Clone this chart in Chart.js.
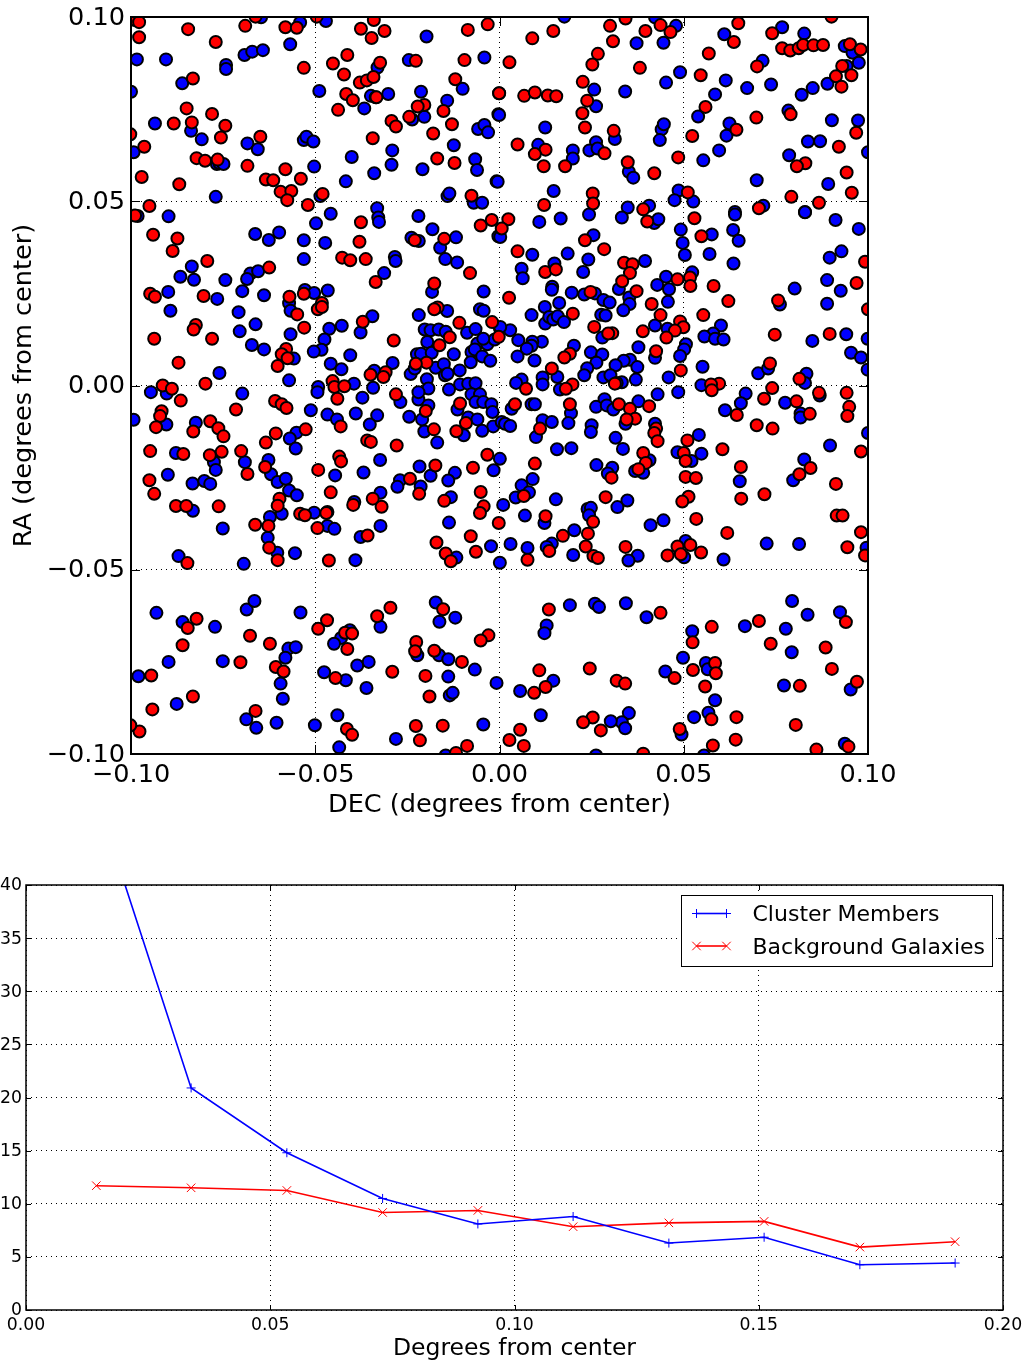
<!DOCTYPE html>
<html>
<head>
<meta charset="utf-8">
<title>Cluster members and background galaxies</title>
<script src="https://cdn.jsdelivr.net/npm/chart.js@4/dist/chart.umd.min.js"></script>
<style>
  html, body { margin: 0; padding: 0; background: #fff; }
  #page { position: relative; width: 1028px; height: 1361px; overflow: hidden; }
  canvas { position: absolute; left: 0; display: block; }
  #sky { top: 0; }
  #profile { top: 830px; }
</style>
</head>
<body>
<div id="page">
  <canvas id="sky" width="1028" height="830"></canvas>
  <canvas id="profile" width="1028" height="531"></canvas>
</div>
<script>
'use strict';

// [DEC, RA] in degrees from center
const clusterMembers = [
  [-.1000,.0797],[-.0984,.0885],[-.0905,.0885],[-.0861,.0820],[-.0742,.0870],[-.0742,.0859],[-.0692,.0897],[-.0671,.0906],
  [-.0642,.0910],[-.0568,.0926],[-.0541,.0985],[-.0647,.0999],[-.0471,.0989],[-.0198,.0947],[-.0246,.0883],[-.0489,.0799],
  [-.0041,.0890],[-.0331,.0863],[-.0349,.0786],[-.0336,.0782],[-.0302,.0791],[-.0213,.0797],[-.0142,.0773],[-.0367,.0752],
  [-.0100,.0805],[-.0003,.0736],[-.0204,.0729],[-.0237,.0722],[-.0058,.0696],[-.0041,.0707],[-.0031,.0687],[-.0837,.0691],
  [-.0808,.0668],[-.0935,.0711],[-.0684,.0657],[-.0656,.0641],[-.0531,.0666],[-.0524,.0675],[-.0505,.0662],[-.0993,.0633],
  [-.0124,.0652],[-.0291,.0638],[-.0401,.0620],[-.0066,.0614],[-.0061,.0585],[-.0293,.0599],[-.0503,.0594],[-.0209,.0587],
  [-.0340,.0576],[-.0417,.0554],[-.0008,.0554],[-.0770,.0512],[-.0767,.0601],[-.0760,.0603],[-.0749,.0601],[-.0141,.0514],
  [-.0136,.0521],[-.0486,.0514],[-.0070,.0496],[-.0047,.0496],[-.0332,.0481],
  [.0176,.1001],[.0422,.0999],[.0479,.0976],[.0610,.0953],[.0827,.0955],[.0767,.0972],[.0372,.0929],[.0445,.0930],
  [.0937,.0921],[.0958,.0903],[.0975,.0876],[.0942,.0867],[.0714,.0881],[.0490,.0850],[.0452,.0822],[.0614,.0828],
  [.0585,.0790],[.0672,.0807],[.0737,.0817],[.0341,.0798],[.0257,.0803],[.0820,.0789],[.0850,.0807],[.0890,.0819],
  [.0262,.0758],[.0539,.0730],[.0784,.0746],[.0902,.0720],[.0973,.0719],[.0124,.0700],[.0624,.0711],[.0616,.0678],
  [.0440,.0695],[.0446,.0709],[.0435,.0666],[.0313,.0669],[.0262,.0660],[.0244,.0638],[.0266,.0643],[.0105,.0653],
  [.0199,.0638],[.0199,.0616],[.0837,.0662],[.0870,.0663],[.0596,.0638],[.0553,.0611],[.0786,.0625],[.1000,.0633],
  [-.0001,.0734],[.0351,.0580],[.0363,.0564],[-.0005,.0553],[.0147,.0528],[.0698,.0557],[.0892,.0547],[.0486,.0529],
  [.0475,.0503],[.0526,.0499],[.0348,.0483],[.0406,.0488],[.0716,.0488],[.0829,.0471],[.0639,.0471],
  [-.0982,.0460],[-.0898,.0459],[-.0458,.0466],[-.0498,.0440],[-.0329,.0456],[-.0327,.0444],[-.0220,.0460],[-.0182,.0424],
  [-.0118,.0402],[-.0003,.0405],[-.0239,.0401],[-.0219,.0392],[-.0161,.0374],[-.0147,.0343],[-.0115,.0334],[-.0663,.0411],
  [-.0626,.0395],[-.0598,.0415],[-.0531,.0394],[-.0473,.0387],[-.0531,.0343],[-.0284,.0349],[-.0282,.0338],[-.0313,.0305],
  [-.0835,.0323],[-.0866,.0295],[-.0829,.0287],[-.0744,.0286],[-.0676,.0304],[-.0655,.0310],[-.0685,.0289],[-.0698,.0256],
  [-.0639,.0245],[-.0899,.0254],[-.0766,.0235],[-.0528,.0259],[-.0503,.0251],[-.0466,.0258],[-.0043,.0255],[-.0183,.0254],
  [-.0893,.0203],[-.0708,.0199],[-.0571,.0223],[-.0567,.0203],[-.0219,.0191],[-.0142,.0202],[-.0053,.0207],[-.0043,.0203],
  [-.0345,.0188],[-.0662,.0166],[-.0705,.0147],[-.0428,.0162],[-.0462,.0154],[-.0377,.0144],[-.0567,.0139],[-.0475,.0125],
  [-.0672,.0110],[-.0639,.0098],[-.0483,.0097],[-.0504,.0092],[-.0405,.0082],[-.0558,.0073],[-.0203,.0152],[-.0187,.0150],
  [-.0165,.0152],[-.0146,.0146],[-.0088,.0143],[-.0065,.0153],[.0001,.0156],[-.0196,.0118],[-.0060,.0114],[-.0033,.0112],
  [-.0013,.0125],[-.0044,.0127],[-.0224,.0085],[-.0213,.0086],[-.0184,.0089],[-.0124,.0085],[-.0076,.0091],[-.0067,.0098],
  [-.0047,.0079],[-.0078,.0063],[-.0025,.0067],[-.0458,.0059],[-.0429,.0044],[-.0290,.0061],[-.0340,.0040],[-.0173,.0048],
  [-.0151,.0058],[-.0241,.0031],[-.0230,.0046],[-.0148,.0028],[-.0141,.0032],[-.0108,.0041],[-.0760,.0034],[-.0571,.0014],
  [-.0492,-.0004],[-.0494,-.0018],[-.0395,.0005],[-.0343,-.0006],[-.0197,.0017],[-.0193,-.0008],[-.0107,.0003],[-.0085,.0005],
  [-.0065,.0006],[-.0137,-.0011],
  [.0639,.0464],[.0829,.0470],[.0912,.0449],[.0975,.0425],[.0166,.0453],[.0243,.0464],[.0332,.0456],[.0108,.0444],
  [.0420,.0441],[.0431,.0451],[.0002,.0403],[.0492,.0423],[.0634,.0422],[.0576,.0410],[.0649,.0393],[.0497,.0387],
  [.0255,.0408],[.0503,.0354],[.0570,.0357],[.0089,.0355],[.0185,.0358],[.0896,.0347],[.0928,.0364],[.0395,.0338],
  [.0241,.0342],[.0149,.0331],[.0635,.0331],[.0060,.0317],[.0063,.0291],[.0227,.0308],[.0523,.0307],[.0452,.0295],
  [.0889,.0286],[.0428,.0273],[.0460,.0261],[.0143,.0268],[.0142,.0260],[.0324,.0262],[.0196,.0252],[.0230,.0247],
  [.0259,.0250],[.0282,.0232],[.0299,.0225],[.0352,.0239],[.0353,.0221],[.0801,.0263],[.0926,.0257],[.0889,.0222],
  [.0761,.0220],[.0457,.0227],[.0123,.0213],[.0162,.0224],[.0336,.0204],[.0276,.0192],[.0288,.0190],[.0087,.0191],
  [.0124,.0168],[.0135,.0186],[.0146,.0179],[.0158,.0188],[.0175,.0172],[.0601,.0163],[.0422,.0163],[.0456,.0154],
  [.0580,.0141],[.0556,.0133],[.0585,.0127],[.0608,.0125],[.0029,.0150],[.0002,.0159],[.0051,.0123],[.0279,.0130],
  [.0941,.0139],[.0849,.0121],[.0115,.0119],[.0089,.0119],[.0087,.0108],[.0074,.0100],[.0999,.0127],[.0377,.0104],
  [.0202,.0108],[.0506,.0112],[.0501,.0098],[.0490,.0080],[.0248,.0090],[.0279,.0084],[.0049,.0079],[.0263,.0062],
  [.0095,.0068],[.0422,.0075],[.0354,.0070],[.0337,.0067],[.0954,.0089],[.0981,.0076],[.0315,.0055],[.0238,.0047],
  [.0374,.0050],[.0551,.0051],[.0702,.0033],[.0729,.0046],[.0833,.0032],[.0230,.0028],[.0999,.0043],[.0459,.0022],
  [.0370,.0016],[.0282,.0022],[.0301,.0028],[.0332,.0009],[.0318,.0007],[.0117,.0022],[.0157,.0023],[.0060,.0016],
  [.0045,.0007],[.0117,.0003],[.0548,.0001],[.0829,.0007],[.0164,-.0011],
  [-.0993,-.0093],[-.0946,-.0018],[-.0903,-.0022],[-.0698,-.0022],[-.0372,-.0033],[-.0269,-.0045],[-.0220,-.0038],[-.0220,-.0018],
  [-.0193,-.0054],[-.0076,-.0024],[-.0053,-.0024],[-.0065,-.0045],[-.0044,-.0045],[-.0022,-.0051],[-.0019,-.0072],[-.0512,-.0067],
  [-.0467,-.0079],[-.0441,-.0092],[-.0390,-.0076],[-.0332,-.0081],[-.0352,-.0106],[-.0245,-.0085],[-.0210,-.0092],[-.0114,-.0065],
  [-.0085,-.0087],[-.0060,-.0092],[-.0017,-.0111],[.0006,-.0099],[-.0047,-.0123],[-.0097,-.0135],[-.0204,-.0125],[-.0169,-.0155],
  [-.0904,-.0106],[-.0824,-.0101],[-.0551,-.0128],[-.0569,-.0144],[-.0553,-.0171],[-.0878,-.0183],[-.0627,-.0202],[-.0691,-.0208],
  [-.0775,-.0208],[-.0770,-.0229],[-.0324,-.0202],[.0001,-.0199],[-.0217,-.0220],[-.0016,-.0230],[-.0187,-.0245],[-.0121,-.0237],
  [-.0139,-.0258],[-.0900,-.0242],[-.0446,-.0244],[-.0369,-.0236],[-.0620,-.0241],[-.0602,-.0262],[-.0580,-.0253],[-.0833,-.0266],
  [-.0801,-.0259],[-.0785,-.0267],[-.0270,-.0257],[-.0277,-.0275],[-.0214,-.0274],[-.0571,-.0285],[-.0550,-.0298],[-.0323,-.0291],
  [-.0132,-.0303],[-.0394,-.0316],[.0010,-.0324],[-.0832,-.0340],[-.0591,-.0348],[-.0503,-.0345],[-.0467,-.0343],[-.0623,-.0357],
  [-.0467,-.0381],[-.0448,-.0389],[-.0323,-.0381],[-.0137,-.0372],[-.0751,-.0388],[-.0629,-.0413],[-.0377,-.0411],[-.0023,-.0436],
  [-.0603,-.0454],[-.0555,-.0455],[-.0117,-.0467],[-.0871,-.0463],[-.0694,-.0484],[-.0391,-.0474],[.0001,-.0481],
  [.0485,-.0018],[.0429,-.0024],[.0668,-.0022],[.0869,-.0027],[.0087,-.0051],[.0096,-.0051],[.0033,-.0063],[.0285,-.0037],
  [.0262,-.0058],[.0291,-.0054],[.0309,-.0065],[.0377,-.0043],[.0655,-.0048],[.0612,-.0067],[.0775,-.0047],[.0817,-.0076],
  [.0817,-.0087],[.0194,-.0075],[.0187,-.0102],[.0342,-.0104],[.0117,-.0094],[.0142,-.0099],[.0250,-.0108],[.0248,-.0126],
  [.0099,-.0140],[.0422,-.0104],[.0315,-.0142],[.0335,-.0172],[.0541,-.0134],[.0156,-.0173],[.0195,-.0170],[.0897,-.0163],
  [.1000,-.0129],[.0483,-.0181],[.0521,-.0205],[.0548,-.0185],[.0407,-.0203],[.0263,-.0216],[.0306,-.0223],[.0368,-.0232],
  [.0390,-.0237],[.0294,-.0239],[.0827,-.0201],[.0797,-.0257],[.0652,-.0260],[.0090,-.0254],[.0060,-.0271],[.0080,-.0290],
  [.0044,-.0304],[.0153,-.0309],[.0347,-.0312],[.0320,-.0330],[.0239,-.0335],[.0248,-.0332],[.0243,-.0352],[.0069,-.0353],
  [.0122,-.0373],[.0445,-.0366],[.0410,-.0379],[.0203,-.0393],[.0142,-.0429],[.0128,-.0438],[.0030,-.0430],[.0076,-.0441],
  [.0200,-.0460],[.0375,-.0462],[.0350,-.0475],[.0505,-.0422],[.0501,-.0466],[.0608,-.0472],[.0725,-.0429],[.0813,-.0430],
  [.0996,-.0440],[.0015,-.0104],[.0029,-.0110],
  [-.0931,-.0617],[-.0860,-.0642],[-.0772,-.0655],[-.0686,-.0608],[-.0665,-.0585],[-.0540,-.0616],[-.0323,-.0655],[-.0173,-.0589],
  [-.0163,-.0641],[-.0120,-.0630],[-.0406,-.0664],[-.0430,-.0685],[-.0449,-.0701],[-.0573,-.0714],[-.0553,-.0710],[-.0581,-.0739],
  [-.0898,-.0750],[-.0751,-.0748],[-.0980,-.0789],[-.0594,-.0809],[-.0588,-.0850],[-.0876,-.0864],[-.0476,-.0778],[-.0417,-.0800],
  [-.0386,-.0760],[-.0355,-.0750],[-.0361,-.0821],[-.0223,-.0732],[-.0164,-.0732],[-.0139,-.0743],[-.0139,-.0790],[-.0067,-.0771],
  [-.0008,-.0807],[-.0135,-.0841],[-.0127,-.0834],[-.0687,-.0906],[-.0660,-.0929],[-.0605,-.0915],[-.0501,-.0922],[-.0440,-.0895],
  [-.0044,-.0920],[-.0281,-.0959],[-.0435,-.0982],[-.0146,-.1004],
  [.0191,-.0596],[.0259,-.0592],[.0270,-.0601],[.0343,-.0591],[.0399,-.0629],[.0128,-.0651],[.0122,-.0672],[.0523,-.0667],
  [.0666,-.0653],[.0777,-.0660],[.0794,-.0585],[.0836,-.0622],[.0924,-.0615],[.0793,-.0724],[.0498,-.0739],[.0560,-.0753],
  [.0565,-.0770],[.0450,-.0776],[.0146,-.0801],[.0056,-.0829],[.0772,-.0814],[.0953,-.0825],[.0585,-.0854],[.0112,-.0895],
  [.0351,-.0889],[.0332,-.0914],[.0341,-.0930],[.0302,-.0911],[.0567,-.0888],[.0528,-.0900],[.0494,-.0947],[.0937,-.0972],
  [.0262,-.1004],[.0555,-.1004]
];

const backgroundGalaxies = [
  [-.0989,.0992],[-.0978,.0986],[-.0978,.0945],[-.0845,.0967],[-.0770,.0932],[-.0690,.0976],[-.0662,.1001],[-.0581,.0972],
  [-.0550,.0971],[-.0496,.1001],[-.0376,.0968],[-.0341,.0992],[-.0312,.0962],[-.0347,.0943],[-.0086,.0965],[-.0032,.0980],
  [-.0531,.0862],[-.0413,.0897],[-.0452,.0874],[-.0324,.0876],[-.0227,.0881],[-.0095,.0883],[-.0832,.0833],[-.0422,.0844],
  [-.0379,.0822],[-.0360,.0828],[-.0342,.0837],[-.0120,.0831],[-.0001,.0793],[-.0416,.0791],[-.0398,.0774],[-.0334,.0782],
  [-.0204,.0761],[-.0222,.0757],[-.0152,.0745],[-.0438,.0748],[-.0849,.0752],[-.0780,.0737],[-.0884,.0711],[-.0835,.0714],
  [-.0744,.0705],[-.0245,.0729],[-.0293,.0718],[-.0281,.0703],[-.0129,.0709],[-.0180,.0684],[-.1002,.0682],[-.0756,.0673],
  [-.0649,.0675],[-.0344,.0671],[-.0964,.0648],[-.0822,.0617],[-.0799,.0610],[-.0765,.0613],[-.0684,.0596],[-.0169,.0616],
  [-.0122,.0604],[-.0581,.0587],[-.0971,.0566],[-.0869,.0546],[-.0634,.0559],[-.0614,.0557],[-.0539,.0561],[-.0594,.0526],
  [-.0565,.0528],[-.0576,.0503],[-.0480,.0520],[-.0076,.0515],[-.0950,.0487],[-.0520,.0490],
  [.0901,.1001],[.0342,.0996],[.0648,.0983],[.0300,.0976],[.0437,.0978],[.0396,.0962],[.0464,.0959],[.0146,.0962],
  [.0089,.0942],[.0308,.0934],[.0636,.0932],[.0740,.0956],[.0767,.0915],[.0789,.0909],[.0812,.0915],[.0824,.0924],
  [.0852,.0923],[.0878,.0924],[.0951,.0926],[.0980,.0912],[.0568,.0901],[.0267,.0900],[.0027,.0877],[.0252,.0871],
  [.0381,.0862],[.0699,.0866],[.0930,.0867],[.0955,.0842],[.0913,.0839],[.0546,.0842],[.0226,.0824],[.0928,.0811],
  [-.0001,.0793],[.0067,.0786],[.0096,.0795],[.0131,.0787],[.0154,.0785],[.0238,.0773],[.0559,.0756],[.0225,.0739],
  [.0697,.0727],[.0790,.0736],[.0232,.0700],[.0643,.0694],[.0310,.0691],[.0968,.0686],[.0523,.0677],[.0049,.0654],
  [.0125,.0640],[.0096,.0628],[.0285,.0630],[.0921,.0648],[.0485,.0619],[.0120,.0595],[.0178,.0595],[.0348,.0606],
  [.0830,.0603],[.0807,.0595],[.0420,.0576],[.0942,.0578],[.0253,.0521],[.0792,.0512],[.0511,.0524],[.0956,.0523],
  [.0867,.0496],[.0254,.0494],[.0121,.0490],[.0390,.0478],[.0704,.0481],
  [-.0989,.0461],[-.0940,.0409],[-.0874,.0399],[-.0887,.0365],[-.0793,.0338],[-.0625,.0320],[-.0376,.0443],[-.0380,.0390],
  [-.0230,.0394],[-.0150,.0398],[-.0427,.0347],[-.0405,.0340],[-.0363,.0343],[-.0051,.0434],[-.0021,.0449],[-.0080,.0305],
  [-.0336,.0281],[-.0177,.0277],[-.0948,.0249],[-.0935,.0241],[-.0803,.0243],[-.0570,.0241],[-.0531,.0249],[-.0482,.0224],
  [-.0493,.0207],[-.0482,.0213],[-.0549,.0193],[-.0168,.0212],[-.0177,.0207],[-.0824,.0164],[-.0830,.0152],[-.0371,.0173],
  [-.0530,.0157],[-.0109,.0170],[-.0020,.0172],[-.0937,.0127],[-.0780,.0127],[-.0287,.0122],[-.0135,.0131],[-.0002,.0132],
  [-.0163,.0109],[-.0579,.0099],[-.0591,.0085],[-.0575,.0074],[-.0871,.0062],[-.0602,.0053],[-.0198,.0062],[-.0227,.0059],
  [-.0350,.0029],[-.0309,.0036],[-.0315,.0023],[-.0453,.0012],[-.0448,-.0004],[-.0421,-.0002],[-.0798,.0005],[-.0914,.0000],
  [-.0889,-.0009],
  [.0529,.0454],[.0401,.0445],[.0024,.0451],[.0006,.0426],[.0548,.0405],[.0232,.0394],[.0284,.0370],[.0049,.0364],
  [.0338,.0333],[.0361,.0329],[.0992,.0336],[.0124,.0308],[.0153,.0315],[.0354,.0305],[.0333,.0283],[.0483,.0288],
  [.0517,.0293],[.0518,.0270],[.0581,.0270],[.0969,.0278],[.0247,.0254],[.0372,.0256],[.0026,.0238],[.0621,.0229],
  [.0756,.0231],[.0413,.0221],[.1000,.0207],[.0199,.0195],[.0437,.0191],[.0553,.0191],[.0257,.0159],[.0490,.0174],
  [.0499,.0158],[.0476,.0149],[.0306,.0142],[.0295,.0141],[.0389,.0147],[.0453,.0130],[.0747,.0138],[.0896,.0140],
  [.0425,.0093],[.0191,.0086],[.0176,.0076],[.0734,.0060],[.0142,.0046],[.0492,.0041],[.0198,.0003],[.0814,.0018],
  [.0313,.0005],[.0596,.0005],[.0574,.0003],[.0576,-.0013],[.0740,-.0007],[.0072,-.0009],[.0180,-.0009],
  [-.0865,-.0041],[-.0715,-.0065],[-.0609,-.0042],[-.0591,-.0051],[-.0578,-.0061],[-.0440,-.0036],[-.0281,-.0024],[-.0107,-.0049],
  [-.0200,-.0069],[-.0917,-.0070],[-.0921,-.0083],[-.0932,-.0113],[-.0831,-.0125],[-.0785,-.0097],[-.0763,-.0116],[-.0749,-.0138],
  [-.0607,-.0130],[-.0634,-.0155],[-.0526,-.0119],[-.0431,-.0111],[-.0178,-.0119],[-.0117,-.0124],[-.0091,-.0102],[-.0359,-.0149],
  [-.0349,-.0153],[-.0279,-.0163],[-.0948,-.0178],[-.0858,-.0186],[-.0786,-.0189],[-.0754,-.0180],[-.0701,-.0178],[-.0435,-.0193],
  [-.0430,-.0206],[-.0033,-.0188],[-.0636,-.0221],[-.0684,-.0240],[-.0492,-.0229],[-.0072,-.0223],[-.0174,-.0217],[-.0950,-.0257],
  [-.0937,-.0294],[-.0243,-.0253],[-.0218,-.0294],[-.0458,-.0290],[-.0051,-.0289],[-.0344,-.0307],[-.0320,-.0329],[-.0397,-.0324],
  [-.0150,-.0313],[-.0597,-.0307],[-.0602,-.0326],[-.0878,-.0327],[-.0850,-.0327],[-.0762,-.0328],[-.0541,-.0348],[-.0528,-.0352],
  [-.0470,-.0346],[-.0043,-.0328],[-.0053,-.0346],[-.0002,-.0373],[-.0663,-.0378],[-.0627,-.0381],[-.0494,-.0387],[-.0358,-.0407],
  [-.0078,-.0409],[-.0171,-.0426],[-.0625,-.0440],[-.0146,-.0456],[-.0064,-.0451],[-.0132,-.0477],[-.0847,-.0482],[-.0602,-.0474],
  [-.0463,-.0475],
  [.0867,-.0020],[.0942,-.0020],[.0718,-.0036],[.0806,-.0043],[.0842,-.0077],[.0644,-.0080],[.0949,-.0058],[.0944,-.0083],
  [.0698,-.0108],[.0741,-.0117],[.0042,-.0051],[.0191,-.0051],[.0324,-.0051],[.0354,-.0063],[.0406,-.0056],[.0368,-.0090],
  [.0345,-.0092],[.0110,-.0117],[.0425,-.0117],[.0420,-.0129],[.0429,-.0151],[.0510,-.0149],[.0605,-.0173],[.0981,-.0179],
  [.0390,-.0183],[.0500,-.0183],[.0505,-.0205],[.0096,-.0212],[.0397,-.0210],[.0377,-.0227],[.0844,-.0224],[.0655,-.0221],
  [.0814,-.0241],[.0505,-.0248],[.0533,-.0251],[.0304,-.0250],[.0913,-.0267],[.0066,-.0300],[.0513,-.0302],[.0496,-.0315],
  [.0288,-.0303],[.0656,-.0307],[.0719,-.0295],[.0125,-.0355],[.0254,-.0370],[.0915,-.0353],[.0931,-.0353],[.0534,-.0362],
  [.0618,-.0400],[.0981,-.0398],[.0172,-.0408],[.0240,-.0402],[.0234,-.0437],[.0342,-.0438],[.0483,-.0437],[.0518,-.0433],
  [.0944,-.0439],[.0135,-.0449],[.0255,-.0463],[.0267,-.0468],[.0076,-.0473],[.0456,-.0461],[.0492,-.0458],[.0547,-.0453],
  [.0992,-.0461],
  [-.0822,-.0633],[-.0846,-.0658],[-.0468,-.0637],[-.0492,-.0660],[-.0332,-.0626],[-.0296,-.0603],[-.0153,-.0607],[-.0419,-.0671],
  [-.0400,-.0673],[-.0677,-.0679],[-.0623,-.0701],[-.0860,-.0705],[-.0226,-.0696],[-.0229,-.0721],[-.0177,-.0720],[-.0413,-.0715],
  [-.0030,-.0678],[-.0051,-.0692],[-.0102,-.0750],[-.0703,-.0751],[-.0607,-.0764],[-.0586,-.0776],[-.0945,-.0787],[-.0445,-.0794],
  [-.0291,-.0777],[-.0201,-.0788],[-.0190,-.0844],[-.0832,-.0844],[-.0942,-.0879],[-.0662,-.0883],[-.0227,-.0924],[-.0154,-.0923],
  [-.0414,-.0932],[-.0400,-.0948],[-.0977,-.0939],[-.1002,-.0922],[-.0216,-.0963],[-.0088,-.0978],[-.0118,-.0997],
  [.0134,-.0608],[.0437,-.0617],[.0940,-.0642],[.0704,-.0639],[.0576,-.0655],[.0736,-.0701],[.0885,-.0711],[.0524,-.0697],
  [.0585,-.0753],[.0525,-.0772],[.0587,-.0781],[.0902,-.0769],[.0245,-.0768],[.0108,-.0773],[.0475,-.0794],[.0318,-.0801],
  [.0341,-.0809],[.0125,-.0818],[.0094,-.0834],[.0970,-.0804],[.0558,-.0817],[.0815,-.0815],[.0643,-.0900],[.0575,-.0906],
  [.0804,-.0921],[.0253,-.0901],[.0227,-.0914],[.0275,-.0936],[.0056,-.0934],[.0027,-.0962],[.0066,-.0978],[.0489,-.0932],
  [.0641,-.0961],[.0579,-.0977],[.0390,-.0999],[.0860,-.0988],[.0947,-.0980]
];

const radialBins = [0.0144, 0.0338, 0.0534, 0.0730, 0.0925, 0.1120, 0.1316, 0.1511, 0.1707, 0.1902];
const clusterDensity = [48.3, 20.9, 14.8, 10.5, 8.1, 8.8, 6.3, 6.85, 4.26, 4.42];
const backgroundDensity = [11.7, 11.5, 11.25, 9.18, 9.37, 7.84, 8.2, 8.34, 5.92, 6.43];

const skyTicks = [-0.1, -0.05, 0, 0.05, 0.1];
const radiusTicks = [0, 0.05, 0.1, 0.15, 0.2];
const densityTicks = [0, 5, 10, 15, 20, 25, 30, 35, 40];

const FONT = "'DejaVu Sans', sans-serif";

const toPoint = (pair) => ({ x: pair[0], y: pair[1] });
const signed = (v) => v.toFixed(2).replace('-', '\u2212');
const pinTicks = (values) => (axis) => { axis.ticks = values.map((value) => ({ value })); };

// fixed axis box; the scale's own label padding would push the plot area in
const fixHeight = (h) => (s) => { s.height = h; s.paddingLeft = 0; s.paddingRight = 0; };
const fixWidth = (w) => (s) => { s.width = w; s.paddingTop = 0; s.paddingBottom = 0; };

// matplotlib style frame: box plus inward ticks on all four sides
const frameTicks = {
  id: 'frameTicks',
  afterDatasetsDraw(chart, args, opts) {
    const { ctx, chartArea: a, scales: { x, y } } = chart;
    ctx.save();
    ctx.strokeStyle = '#000';
    ctx.lineWidth = opts.tickWidth;
    ctx.beginPath();
    x.ticks.forEach((t) => {
      const px = Math.round(x.getPixelForValue(t.value)) + 0.5;
      ctx.moveTo(px, a.bottom); ctx.lineTo(px, a.bottom - opts.tickLength);
      ctx.moveTo(px, a.top); ctx.lineTo(px, a.top + opts.tickLength);
    });
    y.ticks.forEach((t) => {
      const py = Math.round(y.getPixelForValue(t.value)) + 0.5;
      ctx.moveTo(a.left, py); ctx.lineTo(a.left + opts.tickLength, py);
      ctx.moveTo(a.right, py); ctx.lineTo(a.right - opts.tickLength, py);
    });
    ctx.stroke();
    ctx.lineWidth = opts.frameWidth;
    ctx.strokeRect(a.left, a.top, a.right - a.left, a.bottom - a.top);
    ctx.restore();
  },
};

// boxed legend with the line sample between two markers
const boxLegend = {
  id: 'boxLegend',
  afterDraw(chart, args, opts) {
    const { ctx } = chart;
    ctx.save();
    ctx.fillStyle = '#fff';
    ctx.fillRect(opts.left, opts.top, opts.width, opts.height);
    ctx.strokeStyle = '#000';
    ctx.lineWidth = 1;
    ctx.strokeRect(opts.left, opts.top, opts.width, opts.height);
    ctx.font = opts.font;
    ctx.textBaseline = 'middle';
    chart.data.datasets.forEach((ds, i) => {
      const rowY = opts.top + opts.firstRow + i * opts.rowGap;
      const x0 = opts.left + opts.sampleLeft;
      const x1 = x0 + opts.sampleWidth;
      ctx.strokeStyle = ds.borderColor;
      ctx.lineWidth = ds.borderWidth;
      ctx.beginPath();
      ctx.moveTo(x0, rowY);
      ctx.lineTo(x1, rowY);
      ctx.stroke();
      ctx.lineWidth = ds.pointBorderWidth;
      Chart.helpers.drawPoint(ctx, { pointStyle: ds.pointStyle, radius: ds.pointRadius, borderWidth: ds.pointBorderWidth }, x0, rowY);
      Chart.helpers.drawPoint(ctx, { pointStyle: ds.pointStyle, radius: ds.pointRadius, borderWidth: ds.pointBorderWidth }, x1, rowY);
      ctx.fillStyle = '#000';
      ctx.fillText(ds.label, opts.left + opts.textLeft, rowY + 2);
    });
    ctx.restore();
  },
};

const gridStyle = {
  color: '#000',
  lineWidth: 1,
  drawTicks: false,
};

new Chart(document.getElementById('sky'), {
  type: 'scatter',
  plugins: [frameTicks],
  data: {
    datasets: [
      {
        label: 'Background Galaxies',
        data: backgroundGalaxies.map(toPoint),
        backgroundColor: '#ff0000',
        borderColor: '#000',
        borderWidth: 2,
        pointRadius: 6,
        clip: 0,
        order: 0,
      },
      {
        label: 'Cluster Members',
        data: clusterMembers.map(toPoint),
        backgroundColor: '#0000ff',
        borderColor: '#000',
        borderWidth: 2,
        pointRadius: 6,
        clip: 0,
        order: 1,
      },
    ],
  },
  options: {
    responsive: false,
    animation: false,
    events: [],
    layout: { padding: { left: 0, top: 17, right: 160, bottom: 0 } },
    plugins: {
      legend: { display: false },
      tooltip: { enabled: false },
      frameTicks: { tickWidth: 1, tickLength: 9, frameWidth: 2 },
    },
    scales: {
      x: {
        type: 'linear',
        min: -0.1,
        max: 0.1,
        afterBuildTicks: pinTicks(skyTicks),
        afterFit: fixHeight(76),
        grid: gridStyle,
        border: { display: false, dash: [1, 4] },
        ticks: {
          color: '#000',
          font: { family: FONT, size: 25.6 },
          padding: 6,
          maxRotation: 0,
          autoSkip: false,
          callback: (v) => signed(v),
        },
        title: {
          display: true,
          text: 'DEC (degrees from center)',
          color: '#000',
          font: { family: FONT, size: 25.6 },
          padding: { top: 0, bottom: 9 },
        },
      },
      y: {
        type: 'linear',
        min: -0.1,
        max: 0.1,
        afterBuildTicks: pinTicks(skyTicks),
        afterFit: fixWidth(131),
        grid: gridStyle,
        border: { display: false, dash: [1, 4] },
        ticks: {
          color: '#000',
          font: { family: FONT, size: 25.6 },
          padding: 6,
          labelOffset: 1,
          autoSkip: false,
          callback: (v) => signed(v),
        },
        title: {
          display: true,
          text: 'RA (degrees from center)',
          color: '#000',
          font: { family: FONT, size: 25.6 },
          padding: { top: 9, bottom: 0 },
        },
      },
    },
  },
});

new Chart(document.getElementById('profile'), {
  type: 'scatter',
  plugins: [frameTicks, boxLegend],
  data: {
    datasets: [
      {
        label: 'Cluster Members',
        data: radialBins.map((x, i) => ({ x, y: clusterDensity[i] })),
        showLine: true,
        borderColor: '#0000ff',
        backgroundColor: '#0000ff',
        borderWidth: 1.6,
        pointStyle: 'cross',
        pointRadius: 4.5,
        pointBorderWidth: 1,
        pointBorderColor: '#0000ff',
        clip: 0,
      },
      {
        label: 'Background Galaxies',
        data: radialBins.map((x, i) => ({ x, y: backgroundDensity[i] })),
        showLine: true,
        borderColor: '#ff0000',
        backgroundColor: '#ff0000',
        borderWidth: 1.6,
        pointStyle: 'crossRot',
        pointRadius: 6,
        pointBorderWidth: 1,
        pointBorderColor: '#ff0000',
        clip: 0,
      },
    ],
  },
  options: {
    responsive: false,
    animation: false,
    events: [],
    layout: { padding: { left: 0, top: 55, right: 25, bottom: 0 } },
    plugins: {
      legend: { display: false },
      tooltip: { enabled: false },
      frameTicks: { tickWidth: 1, tickLength: 5, frameWidth: 1.5 },
      boxLegend: {
        left: 681.5,
        top: 65.5,
        width: 311,
        height: 71,
        sampleLeft: 15,
        sampleWidth: 30,
        textLeft: 71,
        firstRow: 18,
        rowGap: 32.5,
        font: `22px ${FONT}`,
      },
    },
    scales: {
      x: {
        type: 'linear',
        min: 0,
        max: 0.2,
        afterBuildTicks: pinTicks(radiusTicks),
        afterFit: fixHeight(51),
        grid: gridStyle,
        border: { display: false, dash: [1, 4] },
        ticks: {
          color: '#000',
          font: { family: FONT, size: 17.3 },
          padding: 5,
          maxRotation: 0,
          autoSkip: false,
          callback: (v) => v.toFixed(2),
        },
        title: {
          display: true,
          text: 'Degrees from center',
          color: '#000',
          font: { family: FONT, size: 23.5 },
          padding: { top: 0, bottom: -2 },
        },
      },
      y: {
        type: 'linear',
        min: 0,
        max: 40,
        afterBuildTicks: pinTicks(densityTicks),
        afterFit: fixWidth(26),
        grid: gridStyle,
        border: { display: false, dash: [1, 4] },
        ticks: {
          color: '#000',
          font: { family: FONT, size: 17.3 },
          padding: 4,
          labelOffset: 1,
          autoSkip: false,
          callback: (v) => String(v),
        },
      },
    },
  },
});
</script>
</body>
</html>
